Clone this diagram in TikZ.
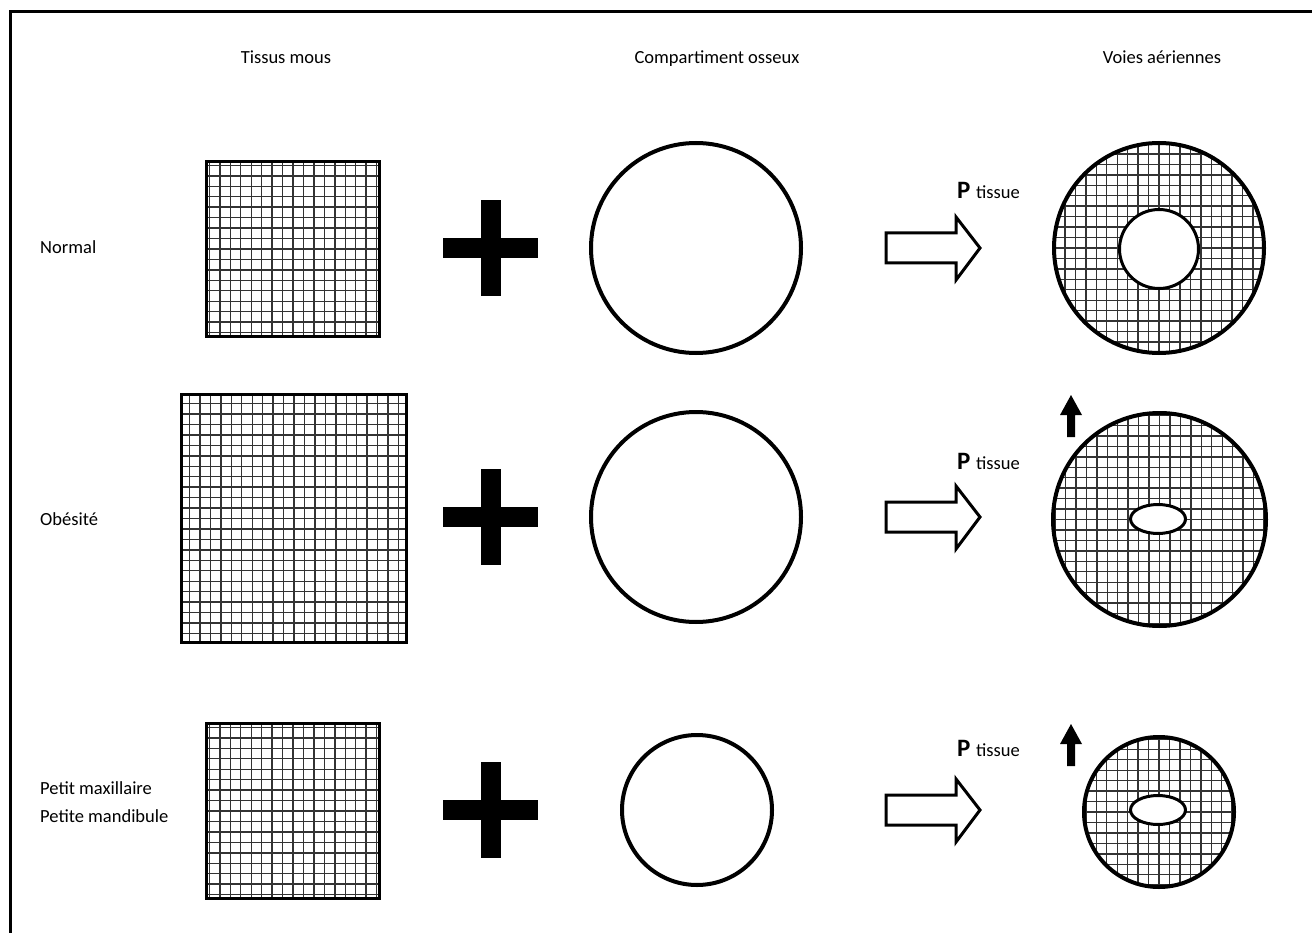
\documentclass[tikz,border=0pt]{standalone}
\usepackage{fontspec}
\setmainfont{Carlito}
\usetikzlibrary{shapes.geometric}

\tikzset{
  lbl/.style={font=\fontsize{18.5}{22}\selectfont, inner sep=0pt},
  gridline/.style={black!80, line width=1.4pt},
  gridfill/.style={path picture={
      \foreach \i in {-13,...,13}{
        \draw[gridline] (path picture bounding box.center) ++(\i*10.45,-140) -- ++(0,280);
        \draw[gridline] (path picture bounding box.center) ++(-140,\i*10.45) -- ++(280,0);
      }}},
  tissue/.style={rectangle, draw, line width=3pt, inner sep=0pt, gridfill},
  bone/.style={circle, draw, line width=4pt, inner sep=0pt},
  airway/.style={circle, draw, line width=4pt, inner sep=0pt, gridfill},
  lumen/.style={draw, fill=white, line width=3pt, inner sep=0pt},
  plusbar/.style={fill=black},
  hollowarrow/.style={draw, fill=white, line width=3pt, line join=miter},
  uparrow/.style={fill=black},
  ptissue/.style={inner sep=0pt, anchor=base west},
}

\begin{document}
\begin{tikzpicture}[x=1pt, y=-1pt]
\useasboundingbox (0,0) rectangle (1312,933);

% outer frame (open towards right and bottom)
\draw[line width=3pt] (1312,12) -- (10,12) -- (10,933);

% column headings
\node[lbl, anchor=base] (hTissus) at (286,64) {Tissus mous};
\node[lbl, anchor=base] (hOs) at (717,64) {Compartiment osseux};
\node[lbl, anchor=base] (hVoies) at (1162,64) {Voies aériennes};

% row labels
\node[lbl, anchor=west] (rNormal) at (40,247) {Normal};
\node[lbl, anchor=west] (rObes) at (40,519) {Obésité};
\node[lbl, anchor=west] (rPetit1) at (40,788) {Petit maxillaire};
\node[lbl, anchor=west] (rPetit2) at (40,816) {Petite mandibule};

% soft tissue blocks
\node[tissue, minimum width=173pt, minimum height=175pt] (t1) at (293,249) {};
\node[tissue, minimum width=225pt, minimum height=248pt] (t2) at (294,518.5) {};
\node[tissue, minimum width=173pt, minimum height=175pt] (t3) at (293,811) {};

% plus signs
\foreach \c/\n in {248/1, 517/2, 810/3}{
  \coordinate (plus\n) at (490.5,\c);
  \fill[plusbar] ([xshift=-47.5pt,yshift=10pt]plus\n) rectangle ([xshift=47.5pt,yshift=-10pt]plus\n);
  \fill[plusbar] ([xshift=-10pt,yshift=48pt]plus\n) rectangle ([xshift=10pt,yshift=-48pt]plus\n);
}

% bony compartment
\node[bone, minimum size=210pt] (b1) at (696,248) {};
\node[bone, minimum size=210pt] (b2) at (696,517) {};
\node[bone, minimum size=150pt] (b3) at (697,810) {};

% hollow arrows
\foreach \c/\n in {248/1, 517/2, 810/3}{
  \coordinate (arr\n) at (886,\c);
  \draw[hollowarrow] (arr\n) ++(0,-15) -- ++(70,0) -- ++(0,-16) -- ++(24,31)
      -- ++(-24,32) -- ++(0,-17) -- ++(-70,0) -- cycle;
}

% P tissue labels
\node[ptissue] (p1) at (957,199) {\fontsize{25}{28}\selectfont\bfseries P\ \fontsize{18.5}{22}\mdseries\selectfont tissue};
\node[ptissue] (p2) at (957,469) {\fontsize{25}{28}\selectfont\bfseries P\ \fontsize{18.5}{22}\mdseries\selectfont tissue};
\node[ptissue] (p3) at (957,756) {\fontsize{25}{28}\selectfont\bfseries P\ \fontsize{18.5}{22}\mdseries\selectfont tissue};

% airways
\node[airway, minimum size=210pt] (a1) at (1159,248) {};
\node[lumen, circle, minimum size=79pt] (l1) at (1159,249) {};

\node[airway, minimum size=213pt] (a2) at (1159.5,519.5) {};
\node[lumen, ellipse, minimum width=55pt, minimum height=29pt] (l2) at (1158,519) {};

\node[airway, minimum size=150pt] (a3) at (1159,812) {};
\node[lumen, ellipse, minimum width=55pt, minimum height=29pt] (l3) at (1158,810) {};

% upward arrows
\foreach \t/\n in {395/2, 724/3}{
  \coordinate (up\n) at (1071,\t);
  \fill[uparrow] (up\n) -- ++(11,20) -- ++(-7,0) -- ++(0,22) -- ++(-8,0)
      -- ++(0,-22) -- ++(-7,0) -- cycle;
}
\end{tikzpicture}
\end{document}
